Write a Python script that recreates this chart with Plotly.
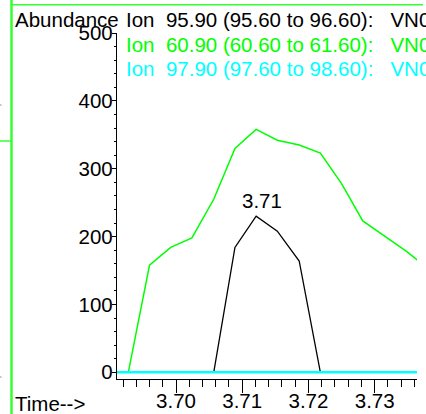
import plotly.graph_objects as go

# Scan times (min)
times = [3.6863, 3.6895, 3.6928, 3.6960, 3.6992, 3.7024, 3.7057, 3.7089, 3.7121,
         3.7153, 3.7186, 3.7218, 3.7250, 3.7282, 3.7314, 3.7347, 3.7379]
# Ion 95.90 (black)
ion_95 = [0, 0, 0, 0, 0, 0, 0, 184, 230, 208, 164, 0, 0, 0, 0, 0, 0]
# Ion 60.90 (green)
ion_60 = [0, 0, 0, 158, 184, 198, 255, 330, 358, 342, 335, 323, 278, 223, 201, 179, 154]
# Ion 97.90 (cyan)
ion_97 = [0] * len(times)

legend_lines = [
    "Ion  95.90 (95.60 to 96.60):   VN0",
    "Ion  60.90 (60.60 to 61.60):   VN0",
    "Ion  97.90 (97.60 to 98.60):   VN0",
]
legend_colors = ["#000000", "#00ff00", "#00ffff"]
peak_label = "3.71"
x_ticks = [3.70, 3.71, 3.72, 3.73]
x_tick_text = ["3.70", "3.71", "3.72", "3.73"]
y_ticks = [0, 100, 200, 300, 400, 500]

W, H = 426, 414
L, R, T, B = 117, 9, 33, 35
PW, PH = W - L - R, H - T - B

def px(x):
    return (x - L) / PW

def py(y):
    return (H - B - y) / PH

FONT = "Liberation Sans, Arial, sans-serif"
FS = 20.5

fig = go.Figure()
fig.add_trace(go.Scatter(x=times, y=ion_60, mode="lines",
                         line=dict(color="#00ff00", width=1.5), hoverinfo="skip"))
fig.add_trace(go.Scatter(x=times, y=ion_95, mode="lines",
                         line=dict(color="#000000", width=1.3), hoverinfo="skip"))
fig.add_trace(go.Scatter(x=times, y=ion_97, mode="lines",
                         line=dict(color="#00ffff", width=2.5), hoverinfo="skip"))

def nb(s):
    return s.replace(" ", "&nbsp;")

annotations = []
annotations.append(dict(text="Abundance", xref="paper", yref="paper",
                        x=px(12.5), y=py(19), xanchor="left", yanchor="middle",
                        showarrow=False, font=dict(family=FONT, size=FS, color="#000")))
for i, (t, c) in enumerate(zip(legend_lines, legend_colors)):
    annotations.append(dict(text=nb(t), xref="paper", yref="paper",
                            x=px(124), y=py(19.5 + 24.7 * i), xanchor="left", yanchor="middle",
                            showarrow=False, font=dict(family=FONT, size=FS, color=c)))
annotations.append(dict(text="Time-->", xref="paper", yref="paper",
                        x=px(13), y=py(403), xanchor="left", yanchor="middle",
                        showarrow=False, font=dict(family=FONT, size=FS, color="#000")))
pk = ion_95.index(max(ion_95))
annotations.append(dict(text=peak_label, x=times[pk], y=ion_95[pk], xref="x", yref="y",
                        xanchor="center", yanchor="bottom", xshift=5.5, yshift=2,
                        showarrow=False, font=dict(family=FONT, size=FS, color="#000")))

shapes = [
    dict(type="line", xref="paper", yref="paper", x0=px(11.5), x1=px(11.5), y0=py(0), y1=py(414),
         line=dict(color="#33ff33", width=2.5)),
    dict(type="line", xref="paper", yref="paper", x0=px(11), x1=px(423), y0=py(4.7), y1=py(4.7),
         line=dict(color="#33ff33", width=1.5)),
    dict(type="line", xref="paper", yref="paper", x0=px(0), x1=px(11), y0=py(141), y1=py(141),
         line=dict(color="#33ff33", width=1.5)),
    dict(type="line", xref="paper", yref="paper", x0=px(0), x1=px(1.5), y0=py(105), y1=py(105),
         line=dict(color="#888888", width=1)),
    dict(type="line", xref="paper", yref="paper", x0=px(0), x1=px(1.5), y0=py(377), y1=py(377),
         line=dict(color="#888888", width=1)),
]

fig.update_layout(
    width=W, height=H,
    margin=dict(l=L, r=R, t=T, b=B, pad=0, autoexpand=False),
    paper_bgcolor="white", plot_bgcolor="white",
    showlegend=False,
    font=dict(family=FONT, size=FS, color="#000"),
    annotations=annotations, shapes=shapes,
    xaxis=dict(range=[3.69109, 3.73639], tickvals=x_ticks, ticktext=x_tick_text,
               automargin=False, ticklabelstandoff=-10,
               ticks="outside", ticklen=13, tickwidth=1, tickcolor="#000",
               showline=True, linecolor="#000", linewidth=1.3, showgrid=False, zeroline=False,
               tickfont=dict(family=FONT, size=FS, color="#000"),
               minor=dict(dtick=0.002, tick0=3.70, ticks="outside", ticklen=7, tickwidth=1,
                          tickcolor="#000", showgrid=False)),
    yaxis=dict(range=[-9.9, 500], tickvals=y_ticks,
               automargin=False, ticklabelstandoff=-5,
               ticks="outside", ticklen=4, tickwidth=1, tickcolor="#000",
               showline=True, linecolor="#000", linewidth=1.3, showgrid=False, zeroline=False,
               tickfont=dict(family=FONT, size=FS, color="#000"),
               minor=dict(dtick=20, tick0=0, ticks="outside", ticklen=2, tickwidth=1,
                          tickcolor="#000", showgrid=False)),
)

fig.write_html("out.html", config={"displayModeBar": False},
               post_script="document.body.style.margin='0px';document.body.style.overflow='hidden';")
